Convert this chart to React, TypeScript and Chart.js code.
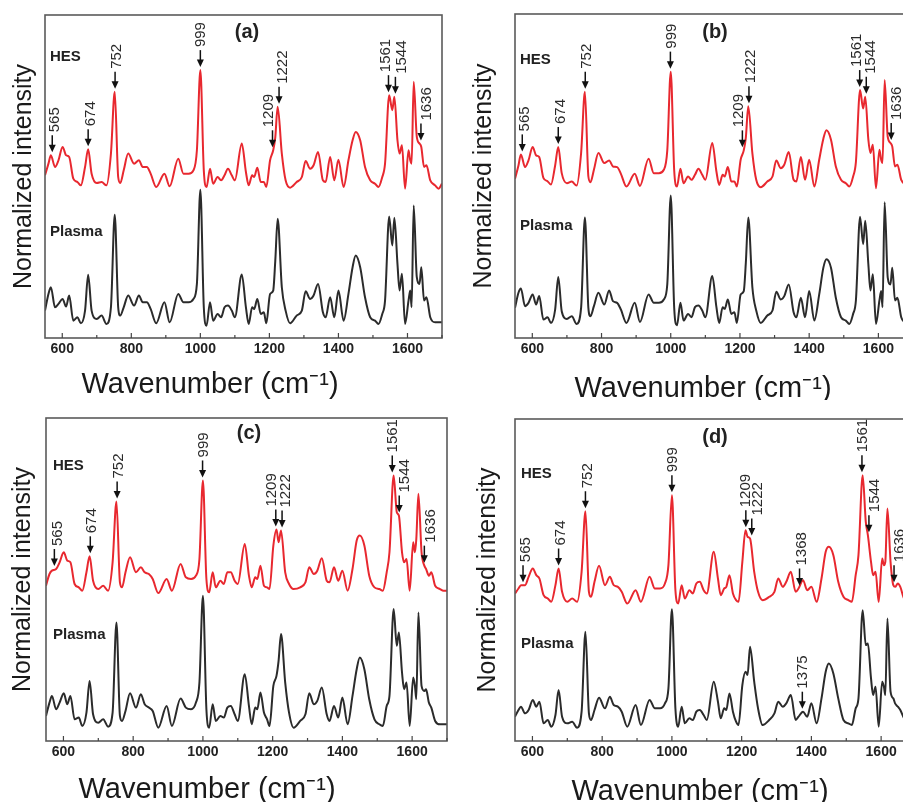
import React, { useEffect, useRef } from 'react';
import { Chart, registerables } from 'chart.js';
Chart.register(...registerables);

// Raman shift grid (cm-1) shared by all spectra
const WN = [
  550, 560, 567, 579, 589, 601, 611, 620, 632, 644,
  654, 666, 675, 685, 700, 714, 728, 741, 752, 762,
  768, 778, 791, 808, 822, 833, 845, 856, 872, 896,
  911, 936, 951, 966, 980, 990, 1000, 1010, 1018, 1028,
  1037, 1050, 1060, 1070, 1080, 1091, 1100, 1120, 1132, 1140,
  1150, 1156, 1165, 1175, 1184, 1191, 1202, 1211, 1217, 1224,
  1236, 1247, 1260, 1279, 1294, 1305, 1318, 1328, 1341, 1355,
  1363, 1376, 1388, 1400, 1415, 1429, 1441, 1450, 1463, 1477,
  1492, 1506, 1516, 1527, 1535, 1547, 1556, 1562, 1571, 1577,
  1584, 1593, 1603, 1608, 1612, 1618, 1627, 1635, 1640, 1648,
  1655, 1666, 1680, 1690, 1700,
];

const X_TICKS = [600, 800, 1000, 1200, 1400, 1600];
const X_MINOR = [700, 900, 1100, 1300, 1500, 1700];

// Panel (a)
const PLASMA_A = [
  82, 132, 152, 92, 102, 117, 94, 127, 52, 62,
  44, 82, 189, 82, 57, 67, 42, 92, 369, 92,
  67, 92, 127, 97, 127, 107, 107, 87, 44, 107,
  47, 132, 107, 107, 117, 162, 444, 92, 37, 107,
  52, 72, 62, 92, 97, 82, 62, 190, 92, 42,
  92, 87, 117, 72, 77, 44, 132, 142, 230, 357,
  152, 82, 44, 67, 82, 140, 117, 127, 162, 77,
  62, 122, 62, 142, 52, 132, 212, 247, 212, 122,
  62, 52, 42, 72, 112, 364, 277, 360, 222, 142,
  192, 42, 112, 142, 92, 397, 182, 162, 212, 112,
  122, 62, 47, 47, 47,
];
const HES_A = [
  487, 522, 547, 512, 532, 572, 547, 542, 477, 467,
  457, 512, 565, 492, 464, 467, 457, 552, 737, 482,
  464, 502, 552, 522, 532, 512, 512, 492, 452, 492,
  454, 537, 492, 492, 502, 562, 802, 502, 452, 507,
  462, 482, 472, 487, 507, 487, 472, 582, 497, 457,
  487, 482, 510, 467, 467, 452, 532, 562, 600, 692,
  552, 472, 450, 467, 482, 530, 507, 517, 557, 472,
  467, 542, 472, 534, 452, 532, 592, 617, 592, 512,
  472, 462, 452, 482, 522, 727, 682, 722, 592, 552,
  577, 447, 562, 532, 522, 767, 602, 582, 572, 512,
  517, 472, 457, 447, 462,
];

// Panel (b)
const PLASMA_B = [
  90, 135, 148, 95, 105, 130, 100, 125, 55, 62,
  45, 85, 182, 80, 57, 65, 42, 90, 360, 90,
  65, 95, 135, 100, 142, 110, 105, 85, 45, 105,
  48, 130, 105, 105, 115, 160, 425, 90, 38, 105,
  52, 72, 62, 92, 97, 82, 62, 185, 92, 45,
  92, 87, 115, 72, 77, 45, 130, 140, 225, 360,
  150, 82, 45, 67, 82, 138, 115, 125, 160, 77,
  62, 120, 62, 140, 52, 130, 210, 235, 210, 120,
  62, 52, 42, 72, 112, 362, 280, 350, 220, 142,
  190, 42, 112, 140, 92, 405, 180, 160, 210, 112,
  120, 62, 47, 47, 47,
];
const HES_B = [
  475, 515, 548, 510, 530, 570, 545, 540, 478, 468,
  458, 515, 570, 492, 462, 467, 455, 552, 735, 482,
  465, 502, 552, 522, 530, 512, 510, 490, 452, 490,
  454, 535, 492, 492, 502, 560, 795, 500, 452, 505,
  462, 482, 472, 487, 505, 487, 472, 582, 497, 457,
  487, 482, 510, 467, 467, 452, 532, 560, 598, 692,
  550, 472, 450, 467, 482, 530, 507, 517, 555, 472,
  467, 540, 472, 532, 452, 532, 595, 620, 592, 512,
  472, 462, 452, 482, 525, 740, 685, 720, 592, 552,
  577, 447, 562, 532, 522, 770, 600, 582, 572, 512,
  517, 472, 457, 447, 462,
];

// Panel (c)
const PLASMA_C = [
  75, 115, 135, 95, 115, 143, 110, 135, 65, 70,
  45, 85, 180, 80, 55, 65, 43, 85, 355, 75,
  60, 90, 143, 100, 140, 110, 100, 90, 40, 105,
  45, 127, 100, 95, 115, 175, 435, 95, 40, 110,
  60, 75, 70, 100, 105, 80, 60, 200, 105, 50,
  100, 95, 145, 85, 65, 45, 165, 195, 240, 320,
  175, 85, 40, 60, 80, 143, 110, 120, 160, 80,
  60, 105, 70, 130, 50, 135, 215, 250, 215, 125,
  65, 50, 45, 105, 135, 395, 285, 325, 205, 155,
  175, 45, 190, 165, 125, 385, 165, 150, 155, 115,
  100, 60, 50, 50, 50,
];
const HES_C = [
  465, 500, 510, 515, 535, 565, 540, 535, 470, 460,
  450, 505, 553, 480, 455, 465, 450, 535, 717, 475,
  460, 505, 550, 505, 520, 505, 500, 485, 443, 485,
  450, 530, 490, 485, 495, 545, 780, 485, 445, 505,
  460, 480, 470, 505, 505, 480, 470, 590, 495, 460,
  490, 485, 525, 465, 460, 455, 585, 633, 595, 630,
  505, 470, 455, 460, 475, 520, 500, 510, 547, 480,
  475, 520, 480, 510, 450, 515, 600, 615, 585, 495,
  460, 455, 450, 505, 565, 795, 685, 675, 565, 535,
  545, 450, 595, 565, 605, 740, 565, 525, 515, 495,
  505, 465, 455, 450, 450,
];

// Panel (d)
const PLASMA_D = [
  73, 93, 103, 83, 93, 123, 103, 118, 53, 63,
  43, 78, 153, 73, 53, 58, 40, 88, 328, 83,
  63, 93, 130, 98, 133, 108, 103, 88, 43, 108,
  48, 123, 98, 98, 113, 158, 396, 98, 43, 103,
  53, 68, 63, 88, 93, 78, 63, 178, 118, 68,
  98, 93, 143, 88, 58, 48, 168, 208, 198, 283,
  178, 98, 48, 63, 83, 118, 103, 113, 138, 63,
  73, 88, 73, 113, 53, 128, 208, 233, 203, 128,
  63, 53, 48, 98, 128, 393, 288, 293, 188, 138,
  163, 43, 178, 163, 138, 368, 148, 128, 113, 103,
  93, 68, 58, 53, 53,
];
const HES_D = [
  443, 458, 468, 468, 493, 518, 498, 488, 438, 428,
  418, 468, 518, 448, 418, 428, 418, 508, 690, 448,
  433, 478, 526, 468, 493, 468, 463, 448, 413, 453,
  418, 493, 458, 458, 473, 528, 738, 453, 413, 468,
  428, 453, 443, 473, 478, 453, 443, 568, 488, 438,
  458, 463, 498, 443, 423, 418, 538, 633, 613, 608,
  508, 448, 423, 433, 448, 488, 463, 478, 508, 448,
  458, 483, 453, 463, 418, 488, 568, 583, 558, 478,
  433, 423, 418, 498, 558, 798, 658, 618, 538, 498,
  508, 418, 548, 528, 538, 698, 538, 468, 463, 473,
  463, 428, 423, 418, 418,
];

// Peak annotations: [arrow position (cm-1), label, label shift (px)]
type Ann = [number, string, number];
const ANN_A: Ann[] = [[571, '565', 3], [675, '674', 3], [753, '752', 2], [1000, '999', 1], [1209, '1209', -4], [1228, '1222', 4], [1545, '1561', -3], [1565, '1544', 6], [1639, '1636', 6]];
const ANN_B: Ann[] = [[571, '565', 3], [675, '674', 3], [753, '752', 2], [999, '999', 1], [1207, '1209', -4], [1226, '1222', 2], [1546, '1561', -3], [1565, '1544', 5], [1637, '1636', 6]];
const ANN_C: Ann[] = [[574, '565', 3], [677, '674', 2], [754, '752', 2], [999, '999', 1], [1209, '1209', -4], [1227, '1222', 4], [1543, '1561', 1], [1563, '1544', 6], [1635, '1636', 7]];
const ANN_D: Ann[] = [[573, '565', 3], [675, '674', 2], [752, '752', 2], [1000, '999', 1], [1212, '1209', 0], [1229, '1222', 6], [1366, '1368', 2], [1545, '1561', 1], [1565, '1544', 6], [1637, '1636', 6]];
const ANN_D_PLASMA: Ann[] = [[1374, '1375', 1]];

const FONT = "'Liberation Sans', Arial, Helvetica, sans-serif";
const RED = '#e8282f';
const DARK = '#2b2b2b';

type PanelCfg = {
  tag: string; x: number; y: number; w: number; h: number;
  L: number; T: number; R: number; B: number;
  yTitlePad: number; xTitleX: number; xTitleY: number;
  hesY: number; plasmaY: number; labX: number; tagX: number; tagY: number;
  plasma: number[]; hes: number[]; annH: Ann[]; annP: Ann[];
};

const PANELS: PanelCfg[] = [
  { tag: '(a)', x: 0, y: 0, w: 450, h: 400, L: 45, T: 15, R: 8, B: 62, yTitlePad: 9, xTitleX: 210, xTitleY: 393, hesY: 42, plasmaY: 217, labX: 5, tagX: 202, tagY: 17, plasma: PLASMA_A, hes: HES_A, annH: ANN_A, annP: [] },
  { tag: '(b)', x: 455, y: 0, w: 470, h: 400, L: 60, T: 14, R: 12, B: 62, yTitlePad: 14, xTitleX: 248, xTitleY: 397, hesY: 46, plasmaY: 212, labX: 5, tagX: 200, tagY: 18, plasma: PLASMA_B, hes: HES_B, annH: ANN_B, annP: [] },
  { tag: '(c)', x: 0, y: 405, w: 455, h: 397, L: 46, T: 13, R: 8, B: 61, yTitlePad: 8, xTitleX: 207, xTitleY: 393, hesY: 48, plasmaY: 217, labX: 7, tagX: 203, tagY: 15, plasma: PLASMA_C, hes: HES_C, annH: ANN_C, annP: [] },
  { tag: '(d)', x: 455, y: 405, w: 470, h: 397, L: 60, T: 14, R: 9, B: 61, yTitlePad: 18, xTitleX: 245, xTitleY: 395, hesY: 55, plasmaY: 225, labX: 6, tagX: 200, tagY: 18, plasma: PLASMA_D, hes: HES_D, annH: ANN_D, annP: ANN_D_PLASMA },
];

function peakNear(vals: number[], wn: number): number {
  let best = -Infinity;
  for (let i = 0; i < WN.length; i++) {
    if (Math.abs(WN[i] - wn) <= 6) best = Math.max(best, vals[i]);
  }
  if (best > -Infinity) return best;
  for (let i = 0; i < WN.length - 1; i++) {
    if (WN[i] <= wn && WN[i + 1] >= wn) {
      const t = (wn - WN[i]) / (WN[i + 1] - WN[i]);
      return vals[i] + t * (vals[i + 1] - vals[i]);
    }
  }
  return vals[0];
}

function Panel({ cfg }: { cfg: PanelCfg }) {
  const ref = useRef<HTMLCanvasElement>(null);
  useEffect(() => {
    const decor = {
      id: 'decor',
      afterDatasetsDraw(chart: any) {
        const { ctx, chartArea: a, scales } = chart;
        const xs = scales.x, ys = scales.y;
        ctx.save();
        // frame
        ctx.strokeStyle = '#5a5a5a';
        ctx.lineWidth = 1.6;
        ctx.strokeRect(a.left, a.top, a.right - a.left, a.bottom - a.top);
        // inward ticks
        ctx.strokeStyle = '#444';
        ctx.lineWidth = 1.2;
        const tick = (v: number, len: number) => {
          const px = xs.getPixelForValue(v);
          ctx.beginPath();
          ctx.moveTo(px, a.bottom);
          ctx.lineTo(px, a.bottom - len);
          ctx.stroke();
        };
        X_TICKS.forEach((v) => tick(v, 5));
        X_MINOR.forEach((v) => tick(v, 3));
        // annotations
        const drawAnn = (vals: number[], list: Ann[]) => {
          list.forEach(([wn, label, dx]) => {
            const px = xs.getPixelForValue(wn);
            const tip = ys.getPixelForValue(peakNear(vals, wn)) - 3;
            const len = 17;
            ctx.strokeStyle = '#111';
            ctx.fillStyle = '#111';
            ctx.lineWidth = 1.5;
            ctx.beginPath();
            ctx.moveTo(px, tip - len);
            ctx.lineTo(px, tip - 6);
            ctx.stroke();
            ctx.beginPath();
            ctx.moveTo(px - 3.5, tip - 7.5);
            ctx.lineTo(px + 3.5, tip - 7.5);
            ctx.lineTo(px, tip);
            ctx.closePath();
            ctx.fill();
            ctx.save();
            ctx.translate(px + dx, tip - len - 3);
            ctx.rotate(-Math.PI / 2);
            ctx.fillStyle = '#2a2a2a';
            ctx.font = `15px ${FONT}`;
            ctx.textAlign = 'left';
            ctx.textBaseline = 'middle';
            ctx.fillText(label, 0, 0);
            ctx.restore();
          });
        };
        drawAnn(cfg.hes, cfg.annH);
        drawAnn(cfg.plasma, cfg.annP);
        // series labels
        ctx.fillStyle = '#222';
        ctx.font = `bold 15px ${FONT}`;
        ctx.textAlign = 'left';
        ctx.textBaseline = 'middle';
        ctx.fillText('HES', a.left + cfg.labX, a.top + cfg.hesY);
        ctx.fillText('Plasma', a.left + cfg.labX, a.top + cfg.plasmaY);
        // panel tag
        ctx.font = `bold 20px ${FONT}`;
        ctx.textAlign = 'center';
        ctx.fillText(cfg.tag, a.left + cfg.tagX, a.top + cfg.tagY);
        // x axis title
        ctx.fillStyle = '#1a1a1a';
        ctx.font = `29px ${FONT}`;
        ctx.textAlign = 'center';
        ctx.textBaseline = 'alphabetic';
        ctx.fillText('Wavenumber (cm\u207B\u00B9)', cfg.xTitleX, cfg.xTitleY);
        ctx.restore();
      },
    };

    const chart = new Chart(ref.current!, {
      type: 'line',
      data: {
        datasets: [
          {
            label: 'HES',
            data: WN.map((x, i) => ({ x, y: cfg.hes[i] })),
            borderColor: RED,
            borderWidth: 2,
            pointRadius: 0,
            cubicInterpolationMode: 'monotone',
            fill: false,
          },
          {
            label: 'Plasma',
            data: WN.map((x, i) => ({ x, y: cfg.plasma[i] })),
            borderColor: DARK,
            borderWidth: 2,
            pointRadius: 0,
            cubicInterpolationMode: 'monotone',
            fill: false,
          },
        ],
      },
      options: {
        responsive: false,
        animation: false,
        devicePixelRatio: 1,
        layout: { padding: { left: 0, top: cfg.T, right: cfg.R, bottom: 0 } },
        plugins: { legend: { display: false }, tooltip: { enabled: false } },
        scales: {
          x: {
            type: 'linear',
            min: 550,
            max: 1700,
            grid: { display: false, drawTicks: false },
            border: { display: false },
            afterBuildTicks: (s: any) => { s.ticks = X_TICKS.map((v) => ({ value: v })); },
            afterFit: (s: any) => { s.height = cfg.B; },
            ticks: {
              autoSkip: false,
              maxRotation: 0,
              padding: 3,
              color: '#222',
              font: { family: FONT, size: 14, weight: 'bold' },
              callback: (v: any) => String(v),
            },
          },
          y: {
            min: 0,
            max: 967,
            grid: { display: false, drawTicks: false },
            border: { display: false },
            ticks: { display: false },
            afterFit: (s: any) => { s.width = cfg.L; },
            title: {
              display: true,
              text: 'Normalized intensity',
              color: '#1a1a1a',
              font: { family: FONT, size: 25 },
              padding: { top: cfg.yTitlePad, bottom: 0 },
            },
          },
        },
      },
      plugins: [decor],
    } as any);
    return () => chart.destroy();
  }, [cfg]);
  return (
    <canvas
      ref={ref}
      width={cfg.w}
      height={cfg.h}
      style={{ position: 'absolute', left: cfg.x, top: cfg.y, width: cfg.w, height: cfg.h }}
    />
  );
}

export default function App() {
  return (
    <div style={{ position: 'fixed', left: 0, top: 0, width: 903, height: 802, overflow: 'hidden', background: '#fff' }}>
      {PANELS.map((p) => (
        <Panel key={p.tag} cfg={p} />
      ))}
    </div>
  );
}
